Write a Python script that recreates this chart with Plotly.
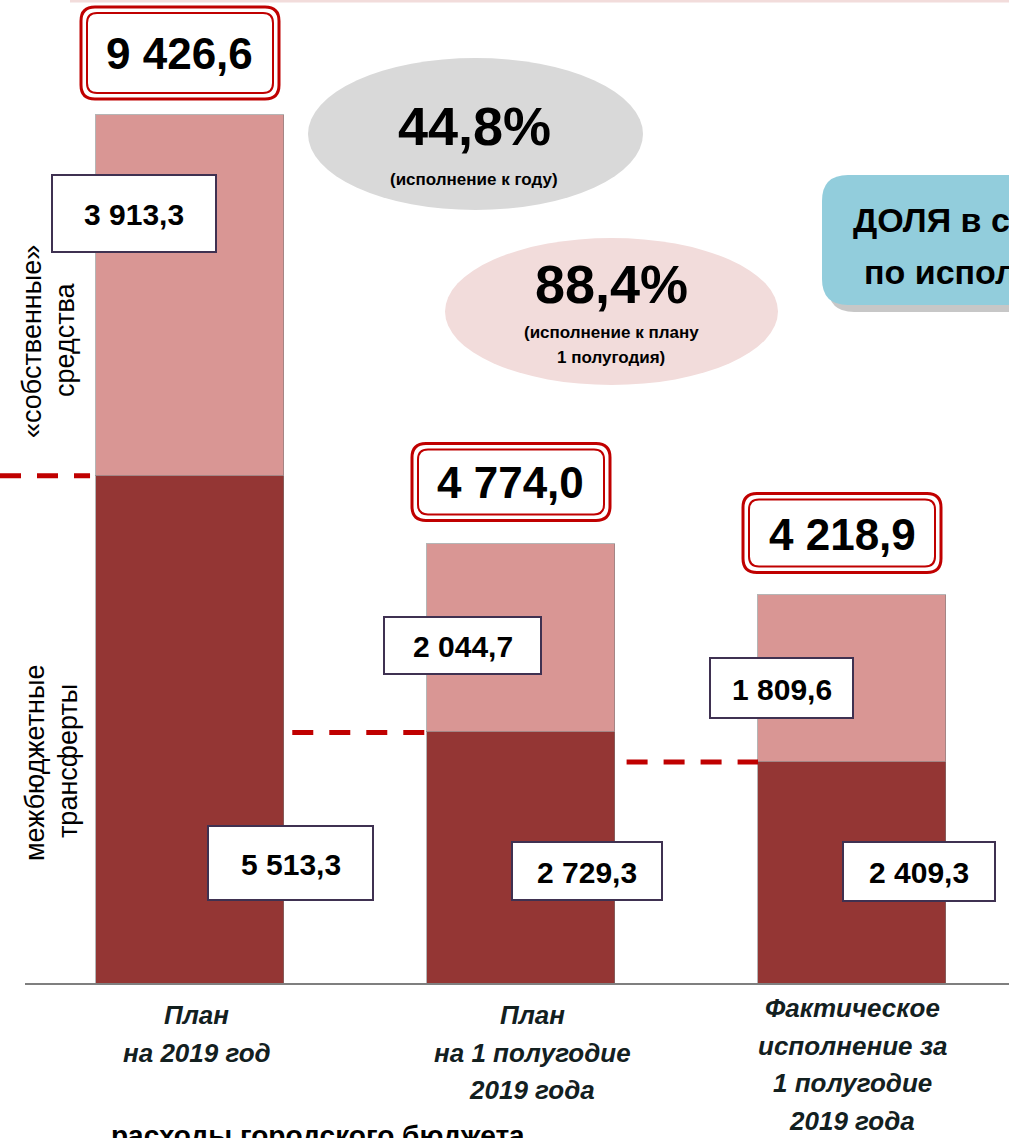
import plotly.graph_objects as go

# ---------------- data ----------------
categories = [["План", "на 2019 год"],
              ["План", "на 1 полугодие", "2019 года"],
              ["Фактическое", "исполнение за", "1 полугодие", "2019 года"]]
transfers = [5513.3, 2729.3, 2409.3]      # межбюджетные трансферты
own_funds = [3913.3, 2044.7, 1809.6]      # «собственные» средства
totals = [9426.6, 4774.0, 4218.9]
pct_year = "44,8%"
pct_half = "88,4%"

# ---------------- styling / layout ----------------
W, H = 1009, 1138
DARK = "#943634"
LIGHT = "#D99694"
RED = "#C00000"
FONT = "Liberation Sans, Arial, sans-serif"

BASE_PX = 984            # baseline pixel row
SCALE = 869 / 9426.6     # px per unit
Y_LO = -(H - BASE_PX) / SCALE
Y_HI = BASE_PX / SCALE
CAT_PX = 331             # px per category
X0_PX = 190              # px of first bar centre
X_LO = -X0_PX / CAT_PX
X_HI = X_LO + W / CAT_PX
BAR_W = 188 / CAT_PX


def fx(v):  # data x -> pixel
    return (v - X_LO) / (X_HI - X_LO) * W


def fy(v):  # data y -> pixel
    return BASE_PX - v * SCALE


def px(x):
    return x / W


def py(y):
    return 1 - y / H


def fmt(v):
    return f"{v:,.1f}".replace(",", " ").replace(".", ",")


def rrect_path(x0, y0, x1, y1, r):
    rx, ry = r / W, r / H
    X0, X1 = px(x0), px(x1)
    Y0, Y1 = py(y0), py(y1)
    return (f"M {X0+rx},{Y0} L {X1-rx},{Y0} Q {X1},{Y0} {X1},{Y0-ry} "
            f"L {X1},{Y1+ry} Q {X1},{Y1} {X1-rx},{Y1} L {X0+rx},{Y1} "
            f"Q {X0},{Y1} {X0},{Y1+ry} L {X0},{Y0-ry} Q {X0},{Y0} {X0+rx},{Y0} Z")


def text_at(x, y, text, size, bold=True, italic=False, color="#000000", angle=0, xanchor="center", yanchor="middle"):
    t = text
    if italic:
        t = f"<i>{t}</i>"
    if bold:
        t = f"<b>{t}</b>"
    return dict(x=px(x), y=py(y), xref="paper", yref="paper", text=t, showarrow=False,
                xanchor=xanchor, yanchor=yanchor, textangle=angle,
                font=dict(family=FONT, size=size, color=color))


xs = list(range(len(categories)))

fig = go.Figure()
edge = dict(color="rgba(120,120,120,0.55)", width=1)
fig.add_trace(go.Bar(x=xs, y=transfers, width=BAR_W, marker=dict(color=DARK, line=edge),
                     hoverinfo="skip", showlegend=False))
fig.add_trace(go.Bar(x=xs, y=own_funds, width=BAR_W, marker=dict(color=LIGHT, line=edge),
                     hoverinfo="skip", showlegend=False))

shapes = []
annotations = []

# top thin pink line
shapes.append(dict(type="line", xref="paper", yref="paper", x0=px(70), x1=1, y0=py(1), y1=py(1),
                   line=dict(color="#F2DCDB", width=3), layer="below"))

# baseline
shapes.append(dict(type="line", xref="paper", yref="y", x0=px(25), x1=1, y0=0, y1=0,
                   line=dict(color="#7F7F7F", width=2)))

# dashed connectors at transfer levels
half = BAR_W / 2
dash_segments = [(X_LO, 0 - half - 0.018, transfers[0]),
                 (0 + half + 0.025, 1 - half, transfers[1]),
                 (1 + half + 0.035, 2 - half, transfers[2])]
for xa, xb, lvl in dash_segments:
    shapes.append(dict(type="line", xref="x", yref="y", x0=xa, x1=xb, y0=lvl, y1=lvl,
                       line=dict(color=RED, width=5, dash="21px,16px")))

# ellipses
shapes.append(dict(type="circle", xref="paper", yref="paper", x0=px(308), x1=px(643), y0=py(210), y1=py(58),
                   fillcolor="#D9D9D9", line=dict(width=0), layer="below"))
shapes.append(dict(type="circle", xref="paper", yref="paper", x0=px(445), x1=px(778), y0=py(385), y1=py(238),
                   fillcolor="#F2DCDB", line=dict(width=0), layer="below"))
annotations += [
    text_at(474, 126, pct_year, 54),
    text_at(474, 179, "(исполнение к году)", 17),
    text_at(611, 284, pct_half, 54),
    text_at(611, 333, "(исполнение к плану", 17),
    text_at(611, 357, "1 полугодия)", 17),
]

# blue box (cropped at right)
shapes.append(dict(type="path", xref="paper", yref="paper", path=rrect_path(828, 182, 1040, 312, 26),
                   fillcolor="rgba(0,0,0,0.22)", line=dict(width=0)))
shapes.append(dict(type="path", xref="paper", yref="paper", path=rrect_path(822, 175, 1040, 305, 26),
                   fillcolor="#92CDDC", line=dict(width=0)))
annotations.append(text_at(851, 220, "ДОЛЯ в структуре", 34, xanchor="left"))
annotations.append(text_at(862, 272, "по исполнению", 34, xanchor="left"))

# total boxes (double red rounded border)
total_box_h = [92, 77, 79]
total_box_w = 198
for i, t in enumerate(totals):
    cx = fx(i) - 10
    cy = fy(t) - 62
    h = total_box_h[i]
    x0, x1 = cx - total_box_w / 2, cx + total_box_w / 2
    y0, y1 = cy - h / 2, cy + h / 2
    shapes.append(dict(type="path", xref="paper", yref="paper", path=rrect_path(x0, y0, x1, y1, 14),
                       fillcolor="white", line=dict(color=RED, width=3)))
    shapes.append(dict(type="path", xref="paper", yref="paper", path=rrect_path(x0 + 6, y0 + 6, x1 - 6, y1 - 6, 10),
                       fillcolor="white", line=dict(color=RED, width=2)))
    annotations.append(text_at(cx, cy + 1, fmt(t), 44))

# segment value boxes: (centre x px, centre y px, w, h)
own_box = [(134, 213.5, 164, 77), (462.5, 645.5, 157, 57), (781.5, 688, 143, 60)]
tr_box = [(290.5, 863, 165, 74), (587, 871, 150, 58), (919, 871.5, 152, 59)]
for vals, boxes in ((own_funds, own_box), (transfers, tr_box)):
    for v, (cx, cy, w, h) in zip(vals, boxes):
        shapes.append(dict(type="rect", xref="paper", yref="paper", x0=px(cx - w / 2), x1=px(cx + w / 2),
                           y0=py(cy + h / 2), y1=py(cy - h / 2), fillcolor="white",
                           line=dict(color="#3F3151", width=2)))
        annotations.append(text_at(cx, cy + 1, fmt(v), 30))

# left side vertical labels
annotations.append(text_at(32, 342, "«собственные»", 27, bold=False, angle=-90))
annotations.append(text_at(65, 340, "средства", 27, bold=False, angle=-90))
annotations.append(text_at(35, 763, "межбюджетные", 27, bold=False, angle=-90))
annotations.append(text_at(68, 761, "трансферты", 27, bold=False, angle=-90))

# category labels (line by line)
cat_first = [1015, 1015, 1008]
cat_dx = [7, 11, 0]
LINE = 37.5
for i, lines in enumerate(categories):
    for j, ln in enumerate(lines):
        annotations.append(text_at(fx(i) + cat_dx[i], cat_first[i] + j * LINE, ln, 26, italic=True, color="#13201F"))

# bottom title (cropped)
annotations.append(text_at(318, 1118, "расходы городского бюджета", 28, yanchor="top"))

fig.update_layout(
    barmode="stack",
    width=W, height=H,
    margin=dict(l=0, r=0, t=0, b=0),
    paper_bgcolor="white", plot_bgcolor="white",
    xaxis=dict(range=[X_LO, X_HI], visible=False, fixedrange=True),
    yaxis=dict(range=[Y_LO, Y_HI], visible=False, fixedrange=True),
    shapes=shapes,
    annotations=annotations,
    bargap=0,
)

fig.write_html("out.html", config={"displayModeBar": False},
               post_script="document.body.style.margin='0px';document.body.style.overflow='hidden';")
